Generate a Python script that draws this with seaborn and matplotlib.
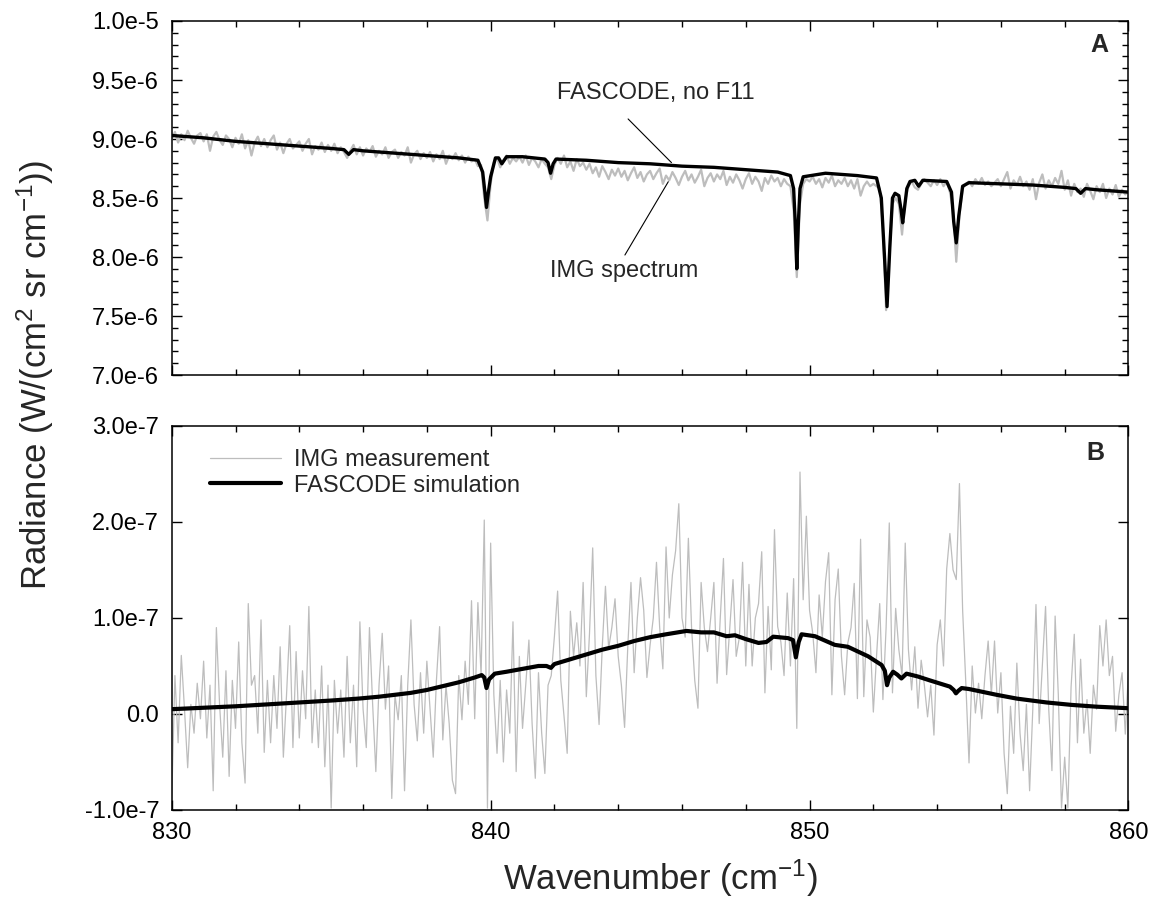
import numpy as np
import pandas as pd
import matplotlib
matplotlib.use("Agg")
import matplotlib.pyplot as plt
from matplotlib.ticker import MultipleLocator, FuncFormatter
import seaborn as sns

# ---------------- data ----------------
# wavenumber sampling of the measured spectra (cm-1)
wn = np.round(np.arange(830.0, 860.0001, 0.1), 1)

# Panel A: IMG spectrum, units of 1e-8 W/(cm2 sr cm-1)
img_a = [
    900, 906, 897, 904, 899, 907, 901, 896, 903, 905,
    898, 904, 890, 902, 906, 899, 895, 903, 900, 893,
    901, 896, 904, 892, 899, 886, 897, 902, 894, 900,
    893, 899, 903, 891, 897, 888, 896, 900, 892, 895,
    898, 890, 896, 900, 887, 894, 891, 897, 889, 895,
    890, 896, 888, 893, 889, 884, 890, 895, 887, 893,
    886, 892, 889, 894, 885, 890, 887, 893, 884, 889,
    891, 884, 889, 886, 893, 880, 887, 890, 883, 888,
    884, 889, 881, 887, 883, 890, 879, 886, 883, 888,
    882, 886, 880, 885, 881, 883, 877, 878, 850, 831,
    862, 880, 884, 876, 882, 886, 879, 884, 881, 885,
    880, 886, 878, 884, 881, 876, 883, 879, 876, 866,
    878, 884, 879, 886, 876, 881, 873, 883, 877, 880,
    874, 879, 871, 876, 868, 877, 872, 866, 874, 869,
    875, 868, 873, 865, 871, 876, 867, 872, 864, 870,
    873, 866, 871, 875, 862, 869, 865, 872, 867, 861,
    868, 873, 865, 870, 863, 868, 874, 860, 867, 871,
    864, 870, 866, 873, 861, 868, 863, 870, 865, 858,
    866, 871, 862, 868, 864, 856, 867, 862, 869, 864,
    867, 860, 866, 862, 860, 840, 783, 845, 862, 866,
    864, 868, 862, 866, 859, 867, 863, 869, 860, 865,
    862, 867, 860, 865, 858, 866, 852, 860, 864, 860,
    862, 860, 858, 825, 755, 800, 845, 850, 845, 819,
    848, 860, 864, 859, 857, 862, 866, 863, 860, 865,
    861, 866, 860, 864, 855, 840, 796, 835, 858, 862,
    864, 860, 866, 862, 867, 861, 864, 860, 863, 866,
    860, 866, 872, 858, 865, 861, 868, 860, 864, 857,
    866, 849, 863, 870, 858, 865, 860, 867, 862, 873,
    857, 865, 852, 862, 855, 858, 851, 862, 856, 849,
    860, 855, 862, 850, 858, 853, 861, 851, 857, 853,
    856,
]

# Panel A: FASCODE, no F11 (units of 1e-8)
fas_a_x = [830.0, 831.0, 832.0, 833.0, 834.0, 835.0, 835.4, 835.55, 835.7, 836.0,
           837.0, 838.0, 839.0, 839.6, 839.75, 839.82, 839.87, 839.93, 840.0, 840.15,
           840.25, 840.35, 840.5, 841.0, 841.7, 841.8, 841.88, 841.96, 842.05, 843.0,
           844.0, 845.0, 846.0, 847.0, 848.0, 849.0, 849.4, 849.5, 849.55, 849.6,
           849.65, 849.7, 849.8, 850.5, 851.5, 852.1, 852.25, 852.35, 852.43, 852.52,
           852.6, 852.68, 852.8, 852.87, 852.92, 852.97, 853.05, 853.15, 853.3, 853.42,
           853.55, 854.3, 854.45, 854.52, 854.6, 854.68, 854.8, 855.0, 856.0, 857.0,
           858.0, 858.35, 858.5, 858.65, 859.0, 860.0]
fas_a_y = [903, 901, 898, 896, 894, 892, 891, 887, 891, 890,
           888, 886, 884, 882, 872, 855, 842, 855, 868, 884,
           884, 879, 885, 885, 883, 880, 871, 879, 883, 882,
           880, 879, 877, 876, 874, 872, 869, 858, 830, 790,
           830, 858, 868, 871, 869, 867, 850, 800, 758, 810,
           850, 854, 852, 840, 829, 840, 858, 864, 865, 860,
           865, 864, 855, 830, 812, 835, 860, 863, 862, 861,
           859, 858, 854, 858, 857, 855]

# Panel B: IMG measurement (difference), units of 1e-9
img_b = [
    -90, 40, -30, 61, 5, -56, 10, -20, 32, -5,
    55, -25, 30, -80, 90, 10, -45, 45, -65, 35,
    -15, 75, -30, -72, 115, 30, 40, -20, 98, -40,
    35, -30, 40, -15, 70, -45, 20, 92, -35, 65,
    -25, 45, -5, 112, -30, 25, -35, 50, -55, 30,
    -98, 35, -20, 25, -45, 60, -30, 30, -55, 96,
    5, -35, 90, 10, -60, 30, 84, 5, 50, -88,
    20, -6, 40, -80, 30, 98, 10, -28, 43, -20,
    55, 5, -45, 35, 91, -27, 30, -10, -69, -83,
    40, -6, 55, 10, 118, -5, 116, 40, 202, -98,
    178, 20, -41, 35, -50, 25, -20, 96, -60, 60,
    -15, 30, 77, -10, -67, 43, -20, -62, 30, 40,
    81, 128, 35, -2, -41, 107, 60, 95, 50, 137,
    18, 84, 173, 40, -11, 70, 133, 68, 90, 120,
    60, 30, -14, 70, 137, 43, 100, 142, 108, 38,
    72, 100, 158, 90, 47, 174, 100, 145, 170, 219,
    100, 80, 183, 90, 35, 6, 137, 90, 65, 100,
    137, 32, 100, 162, 41, 90, 140, 60, 80, 158,
    50, 135, 50, 100, 115, 169, 22, 112, 46, 192,
    91, 75, 40, 126, 50, 141, -15, 252, 119, 206,
    108, 84, 43, 124, 80, 138, 168, 20, 119, 151,
    60, 20, 74, 90, 136, 16, 182, 18, 98, 80,
    2, 60, 115, 15, 90, 199, 22, 110, 67, 40,
    178, 67, 25, 70, 6, 56, 30, -3, 30, -22,
    72, 98, 50, 151, 188, 150, 140, 240, 108, 32,
    -51, 50, 1, 32, -5, 40, 76, 20, 76, 1,
    43, -41, -83, 8, -41, 53, -20, -59, 10, -80,
    5, 114, -10, 50, 112, 5, -59, 102, 20, -98,
    -45, -98, 28, 83, -30, 57, -20, 15, -41, 30,
    5, 92, 50, 98, 40, 60, -18, 20, 43, -21,
    45,
]

# Panel B: FASCODE simulation, units of 1e-9
fas_b_x = [830.0, 832.0, 833.0, 834.0, 835.0, 835.85, 836.5, 837.0, 837.5, 838.0,
           838.5, 839.0, 839.5, 839.72, 839.8, 839.87, 839.95, 840.13, 840.5, 841.0,
           841.5, 841.75, 841.89, 842.0, 842.5, 843.0, 843.5, 844.0, 844.5, 845.0,
           845.5, 846.14, 846.6, 847.0, 847.4, 847.66, 848.0, 848.4, 848.65, 848.86,
           849.33, 849.48, 849.57, 849.66, 849.75, 850.17, 850.79, 851.2, 851.84, 852.26,
           852.36, 852.43, 852.5, 852.62, 852.75, 852.88, 853.04, 853.4, 853.77, 854.4,
           854.52, 854.59, 854.66, 854.77, 855.0, 855.86, 856.5, 857.43, 858.2, 859.0,
           860.0]
fas_b_y = [5, 8, 10, 12, 14, 16, 18, 20, 22, 25,
           29, 33, 38, 40.5, 38, 27, 36, 42, 44, 47,
           50, 50, 48, 52, 57, 62, 67, 71, 76, 80,
           83, 86.5, 85, 85, 81, 82, 78, 74, 75, 80.5,
           79, 77, 59, 75, 83, 81, 72, 70, 60, 51,
           45, 30, 38, 44, 41, 37, 42, 39, 35, 28.5,
           25, 21.5, 24, 27, 26, 20, 16, 12, 9.5, 7.6,
           6]

# ---------------- style ----------------
sns.set_style("ticks")
plt.rcParams["font.family"] = ["Liberation Sans", "DejaVu Sans"]
plt.rcParams["mathtext.fontset"] = "custom"
plt.rcParams["mathtext.rm"] = "Liberation Sans"
plt.rcParams["mathtext.it"] = "Liberation Sans"
plt.rcParams["mathtext.default"] = "regular"

GRAY = "#bdbdbd"
TICK_FS = 17

fig = plt.figure(figsize=(11.58, 9.05), dpi=100)
axA = fig.add_axes([0.1483, 0.5856, 0.8262, 0.3912])
axB = fig.add_axes([0.1483, 0.1050, 0.8262, 0.4243])

dfA_img = pd.DataFrame({"wn": wn, "rad": np.array(img_a) * 1e-8})
dfA_fas = pd.DataFrame({"wn": fas_a_x, "rad": np.array(fas_a_y) * 1e-8})
dfB_img = pd.DataFrame({"wn": wn, "rad": np.array(img_b) * 1e-9})
dfB_fas = pd.DataFrame({"wn": fas_b_x, "rad": np.array(fas_b_y) * 1e-9})

sns.lineplot(data=dfA_img, x="wn", y="rad", ax=axA, color=GRAY, lw=1.6, legend=False)
sns.lineplot(data=dfA_fas, x="wn", y="rad", ax=axA, color="black", lw=2.4, legend=False)

sns.lineplot(data=dfB_img, x="wn", y="rad", ax=axB, color=GRAY, lw=0.9,
             label="IMG measurement")
sns.lineplot(data=dfB_fas, x="wn", y="rad", ax=axB, color="black", lw=3.0,
             label="FASCODE simulation")


def sci_fmt(v, pos=None):
    if abs(v) < 1e-12:
        return "0.0"
    s = f"{v:.1e}"
    mant, exp = s.split("e")
    return f"{mant}e{int(exp)}"


for ax in (axA, axB):
    ax.set_xlim(830, 860)
    ax.xaxis.set_major_locator(MultipleLocator(10))
    ax.xaxis.set_minor_locator(MultipleLocator(2))
    ax.tick_params(which="both", direction="in", top=True, right=True,
                   width=1.0, colors="black", labelsize=TICK_FS)
    ax.tick_params(which="major", length=7.5)
    ax.tick_params(which="minor", length=4.5)
    ax.tick_params(axis="y", pad=9)
    ax.tick_params(axis="x", pad=9)
    ax.set_xlabel("")
    ax.set_ylabel("")
    for sp in ax.spines.values():
        sp.set_visible(True)
        sp.set_linewidth(1.1)
        sp.set_color("black")
    ax.yaxis.set_major_formatter(FuncFormatter(sci_fmt))

axA.set_ylim(7.0e-6, 1.0e-5)
axA.yaxis.set_major_locator(MultipleLocator(0.5e-6))
axA.yaxis.set_minor_locator(MultipleLocator(0.1e-6))
axA.tick_params(axis="x", labelbottom=False)

axB.set_ylim(-1.0e-7, 3.0e-7)
axB.yaxis.set_major_locator(MultipleLocator(1e-7))
axB.yaxis.set_minor_locator(matplotlib.ticker.NullLocator())

# annotations panel A
axA.text(848.29, 9.336e-6, "FASCODE, no F11", ha="right", va="baseline", fontsize=TICK_FS)
axA.annotate("", xy=(845.67, 8.80e-6), xytext=(844.31, 9.17e-6),
             arrowprops=dict(arrowstyle="-", lw=0.8, color="black", shrinkA=0, shrinkB=0))
axA.text(846.51, 7.833e-6, "IMG spectrum", ha="right", va="baseline", fontsize=TICK_FS)
axA.annotate("", xy=(845.57, 8.638e-6), xytext=(844.21, 8.017e-6),
             arrowprops=dict(arrowstyle="-", lw=0.8, color="black", shrinkA=0, shrinkB=0))

axA.text(0.979, 0.967, "A", transform=axA.transAxes, ha="right", va="top",
         fontsize=18, fontweight="bold")
axB.text(0.975, 0.962, "B", transform=axB.transAxes, ha="right", va="top",
         fontsize=18, fontweight="bold")

leg = axB.legend(loc="upper left", bbox_to_anchor=(0.04, 0.94), frameon=False,
                 fontsize=TICK_FS, handlelength=3.0, handletextpad=0.55,
                 labelspacing=0.15, borderpad=0, borderaxespad=0)

fig.text(35 / 1158, 1 - 375 / 905, r"Radiance (W/(cm$^2$ sr cm$^{-1}$))",
         rotation=90, ha="center", va="center", fontsize=25)
fig.text(660 / 1158, 1 - 878 / 905, r"Wavenumber (cm$^{-1}$)",
         ha="center", va="center", fontsize=25)

fig.savefig("out.png", dpi=100)
